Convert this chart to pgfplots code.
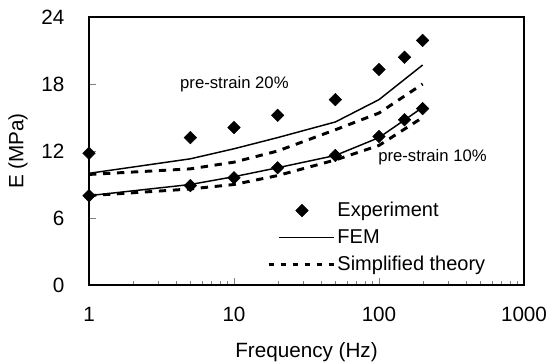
\documentclass[border=0pt]{standalone}
\usepackage{pgfplots}
\pgfplotsset{compat=1.18}
\usepackage{fontspec}
\setmainfont{Liberation Sans}
\begin{document}
\begin{tikzpicture}[x=0.75pt,y=0.75pt]
\begin{axis}[
  scale only axis, width=326.25pt, height=201pt,
  xmode=log, xmin=1, xmax=1000, ymin=0, ymax=24,
  ytick={0,6,12,18,24}, xtick={1,10,100,1000},
  xticklabels={1,10,100,1000},
  minor xtick={},
  tick align=inside, major tick length=5pt,
  xtick pos=bottom, ytick pos=left,
  /pgf/number format/assume math mode=true,
  tick label style={font=\fontsize{15.5}{17}\selectfont},
  yticklabel style={xshift=-15pt},
  xticklabel style={yshift=-13pt},
  xlabel={Frequency (Hz)}, ylabel={E (MPa)},
  label style={font=\fontsize{15.5}{17}\selectfont},
  xlabel style={at={(axis description cs:0.5,-0.25)}, anchor=center},
  ylabel style={at={(axis description cs:-0.163,0.5)}, anchor=center},
  axis line style={line width=1.3pt, draw=black},
  clip=false,
  legend style={draw=none, fill=none, at={(0.409,0.317)}, anchor=north west,
    font=\fontsize{15}{16}\selectfont, row sep=5pt, inner sep=0pt,
    nodes={inner sep=1.5pt}},
  legend cell align=left,
]
\addplot[only marks, mark=square*, mark options={rotate=45}, mark size=3.3pt, black,
  legend image code/.code={\path[draw=none, fill=none] (0pt,0pt) -- (49pt,0pt);
    \fill[black, rotate around={45:(25pt,0pt)}] (21.7pt,-3.3pt) rectangle (28.3pt,3.3pt);}]
  coordinates {(1,11.8) (5,13.2) (10,14.1) (20,15.2) (50,16.6) (100,19.3) (150,20.4) (200,21.9)};
\addlegendentry{Experiment}
\addplot[black, line width=1.1pt,
  legend image code/.code={\path[draw=none, fill=none] (0pt,0pt) -- (49pt,0pt); \draw[black, line width=1.1pt, solid] (7.5pt,0pt) -- (49pt,0pt);}]
  coordinates {(1,10.0) (5,11.3) (10,12.2) (20,13.2) (50,14.6) (100,16.6) (200,19.7)};
\addlegendentry{FEM}
\addplot[black, line width=2.2pt, dash pattern=on 5.5pt off 5pt,
  legend image code/.code={\draw[black, line width=2.2pt, dash pattern=on 4pt off 5pt] (0pt,0pt) -- (49pt,0pt);}]
  coordinates {(1,9.9) (5,10.4) (10,11.0) (20,12.0) (50,13.9) (100,15.4) (200,18.0)};
\addlegendentry{Simplified theory}
\addplot[only marks, mark=square*, mark options={rotate=45}, mark size=3.3pt, black, forget plot]
  coordinates {(1,8.0) (5,8.9) (10,9.6) (20,10.5) (50,11.6) (100,13.3) (150,14.8) (200,15.8)};
\addplot[black, line width=1.1pt, forget plot] coordinates {(1,8.0) (5,9.0) (10,9.7) (20,10.5) (50,11.6) (100,13.2) (200,15.9)};
\addplot[black, line width=2.2pt, dash pattern=on 5.5pt off 5pt, forget plot] coordinates {(1,8.0) (5,8.6) (10,9.0) (20,9.8) (50,11.2) (100,12.5) (200,15.0)};
\node[font=\fontsize{12.5}{13}\selectfont, anchor=west, inner sep=0pt] at (axis cs:4.24,18.0) {pre-strain 20\%};
\node[font=\fontsize{12.5}{13}\selectfont, anchor=west, inner sep=0pt] at (axis cs:98.5,11.46) {pre-strain 10\%};
\end{axis}
\fill[black] ([shift={(-0.65pt,-0.75pt)}]current axis.north west) rectangle ([shift={(0.75pt,0.75pt)}]current axis.north east);
\fill[black] ([shift={(-0.75pt,-0.65pt)}]current axis.south east) rectangle ([shift={(0.75pt,0.75pt)}]current axis.north east);
\pgfresetboundingbox
\path[use as bounding box] ([shift={(-89,-79)}]current axis.south west) rectangle ([shift={(33,17)}]current axis.north east);
\end{tikzpicture}
\end{document}
